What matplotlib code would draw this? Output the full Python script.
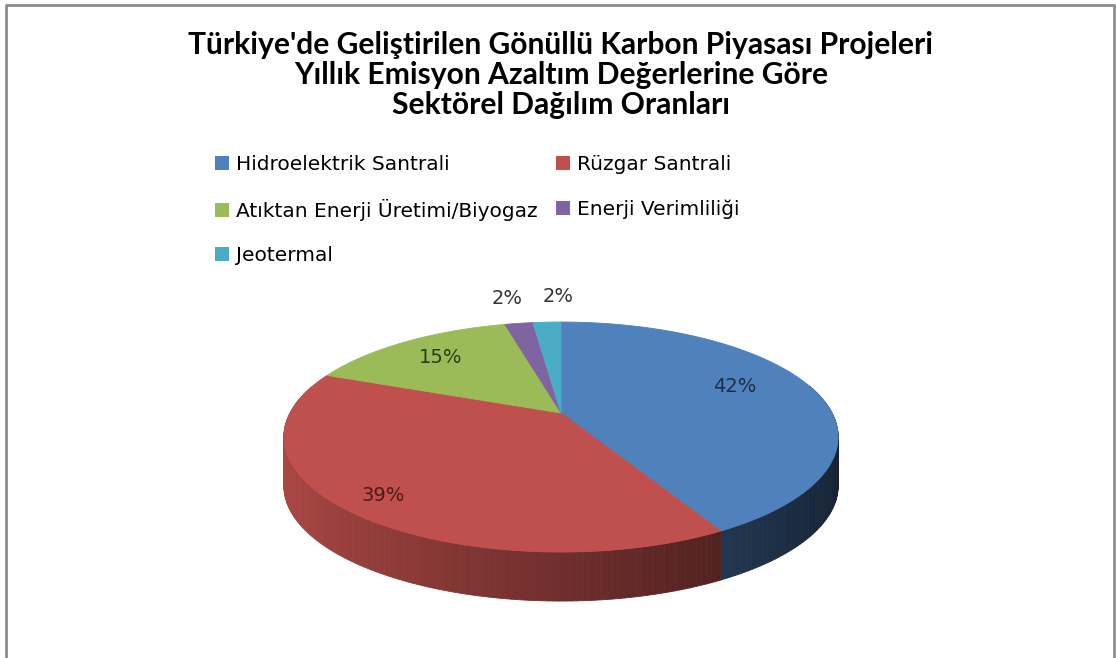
import numpy as np
import matplotlib.pyplot as plt
from matplotlib.patches import Polygon, Rectangle
from matplotlib.colors import to_rgb

plt.rcParams['font.family'] = ['Lato', 'DejaVu Sans']

title_lines = [
    "Türkiye'de Geliştirilen Gönüllü Karbon Piyasası Projeleri",
    "Yıllık Emisyon Azaltım Değerlerine Göre",
    "Sektörel Dağılım Oranları",
]
sectors = [
    "Hidroelektrik Santrali",
    "Rüzgar Santrali",
    "Atıktan Enerji Üretimi/Biyogaz",
    "Enerji Verimliliği",
    "Jeotermal",
]
shares = [42, 39, 15, 2, 2]
colors = ["#4F81BD", "#C0504D", "#9BBB59", "#8064A2", "#4BACC6"]
label_colors = ["#1E2E44", "#4A1A19", "#24400F", "#333333", "#333333"]
label_radius = [0.72, 0.86, 0.75, 1.36, 1.36]
label_shift = [6, 0, 0, 0, -3]  # degrees, nudges labels like Excel does

# pseudo-3D pie geometry (pixel space)
CX, CY = 561, 413
R, H, K = 271, 110, 0.209
DEPTH = 49


def proj(theta, r=1.0):
    c, s = np.cos(theta), np.sin(theta)
    w = 1 + K * r * s
    return CX + R * r * c / w, CY - H * r * s / w


fig = plt.figure(figsize=(11.16, 6.58), dpi=100)
ax = fig.add_axes([0, 0, 1, 1])
ax.set_xlim(0, 1116)
ax.set_ylim(658, 0)
ax.axis("off")

total = sum(shares)
edges = np.deg2rad(90 - 360 * np.cumsum([0] + shares) / total)

# side walls
quads = []
for i in range(len(shares)):
    t0, t1 = edges[i], edges[i + 1]
    n = max(int(np.degrees(t0 - t1)), 2)
    ts = np.linspace(t0, t1, n + 1)
    base = np.array(to_rgb(colors[i]))
    for a, b in zip(ts[:-1], ts[1:]):
        mid = (a + b) / 2
        if np.sin(mid) > 0.25:
            continue
        xa, ya = proj(a)
        xb, yb = proj(b)
        shade = np.clip(0.58 - 0.32 * np.cos(mid), 0.25, 0.95)
        col = base * shade
        quads.append((np.sin(mid), [(xa, ya), (xb, yb), (xb, yb + DEPTH), (xa, ya + DEPTH)], col))
quads.sort(key=lambda q: -q[0])
for _, pts, col in quads:
    ax.add_patch(Polygon(pts, closed=True, facecolor=col, edgecolor=col, lw=0.6, zorder=2))

# top faces
for i in range(len(shares)):
    ts = np.linspace(edges[i], edges[i + 1], 120)
    pts = [proj(0, 0)] + [proj(t) for t in ts]
    ax.add_patch(Polygon(pts, closed=True, facecolor=colors[i], edgecolor=colors[i], lw=0.6, zorder=3))

# data labels
for i, v in enumerate(shares):
    mid = (edges[i] + edges[i + 1]) / 2 + np.deg2rad(label_shift[i])
    x, y = proj(mid, label_radius[i])
    ax.text(x, y, f"{100 * v / total:.0f}%", ha="center", va="center", family="DejaVu Sans",
            fontsize=14, color=label_colors[i], zorder=5)

# title
for j, line in enumerate(title_lines):
    ax.text(561, 45 + 30 * j, line, ha="center", va="center",
            fontsize=21.6, fontweight="bold")

# legend (row-wise order like Excel)
handles = [Rectangle((0, 0), 1, 1, facecolor=c) for c in colors]
order = [0, 2, 4, 1, 3]
fig.legend([handles[i] for i in order], [sectors[i] for i in order], ncol=2,
           loc="upper left", bbox_to_anchor=(207 / 1116, 1 - 147 / 658), frameon=False,
           handlelength=0.7, handleheight=0.7, handletextpad=0.35, columnspacing=0.9,
           labelspacing=1.25, prop={"family": "DejaVu Sans", "size": 14.5}, borderaxespad=0)

# chart frame
ax.plot([6, 6, 1114, 1114], [700, 5, 5, 700], color="#8c8c8c", lw=2, clip_on=False)

fig.savefig("out.png", dpi=100)
